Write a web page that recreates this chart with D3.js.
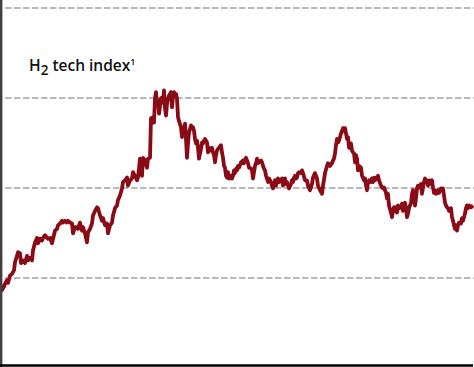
<!DOCTYPE html>
<html>
<head>
<meta charset="utf-8">
<script src="https://cdn.jsdelivr.net/npm/d3@7"></script>
<style>
  html, body { margin: 0; padding: 0; background: #fff; }
  svg { display: block; }
</style>
</head>
<body>
<svg id="chart" width="474" height="367"></svg>
<script>
// ---- data ----
const titleMain = "H";
const titleSub = "2";
const titleRest = " tech index";
const titleSup = "1";
const gridValues = [100, 200, 300, 400];
// observation time (week number) for each index value
const weeks = [
  0, 2, 4, 5, 7, 8, 10, 12, 14, 15, 17, 18, 20, 21, 23, 25, 27, 28, 30, 32,
  33, 35, 37, 38, 40, 42, 43, 45, 47, 48, 50, 52, 53, 55, 57, 58, 60, 62, 63, 65,
  67, 68, 70, 72, 73, 75, 77, 78, 80, 82, 83, 85, 87, 88, 90, 92, 93, 95, 97, 98,
  100, 102, 103, 105, 107, 108, 110, 112, 113, 115, 117, 118, 120, 122, 123, 125, 127, 128, 130, 132,
  133, 135, 137, 138, 140, 142, 143, 145, 147, 148, 150,
  151, 153, 154, 155, 156, 157, 158, 159,
  161, 162, 163, 164, 165, 166, 167, 168, 169, 171, 172, 173, 174, 175, 176, 177, 178, 179,
  181, 182, 183, 184, 185, 186, 187, 188, 189, 191, 192, 193, 194, 195, 196, 197, 198, 199,
  201, 202, 203, 204, 205, 206, 207, 208, 209, 211, 212, 213, 214, 215, 216, 217, 218, 219,
  221, 222, 223, 224, 225, 226, 227, 228, 229, 231, 232, 233, 234, 235, 236, 237, 238, 239,
  241, 242, 243, 244, 245, 246, 247, 248, 249, 251, 252, 253, 254, 255, 256, 257, 258, 259,
  261, 262, 263, 264, 265, 266, 267, 268, 269, 271, 272, 273, 274, 275, 276, 277, 278, 279,
  281, 282, 283, 284, 285, 286, 287, 288, 289, 291, 292, 293, 294, 295, 296, 297, 298, 299,
  301, 302, 303, 305, 307, 308, 310, 312, 313, 315, 317, 318, 320, 322, 323, 325, 327, 328, 330, 332,
  333, 334, 335, 336, 337, 338, 339,
  341, 342, 343, 344, 345, 346, 347, 348, 349, 351, 352, 353, 354, 355, 356, 357, 358, 359,
  361, 362, 363, 364, 365, 366, 367, 368, 369, 371, 372, 373, 374, 375, 376, 377, 378, 379,
  381, 382, 383, 384, 385, 386, 387, 388, 389, 391, 392, 393, 394, 395, 396, 397, 398, 399,
  401, 402, 403, 404, 405, 406, 407, 408, 409, 411, 412, 413, 414, 415, 416, 417, 418, 419,
  421, 422, 423, 424, 425, 426, 427, 428, 429, 431, 432, 433, 434, 435, 436, 437, 438, 439,
  441, 442, 443, 444, 445, 446, 447, 448, 449, 451, 452, 453, 454, 455, 456, 457, 458, 459,
  461, 462, 463, 464, 465, 466, 467, 468, 469, 471, 473
];
const indexValues = [
  93, 86, 90, 93, 97, 94, 102, 104, 108, 117, 124, 128, 127, 116, 119, 116, 124, 119, 122, 119,
  130, 139, 144, 138, 143, 141, 144, 147, 144, 143, 144, 138, 143, 152, 154, 158, 160, 163, 161, 163,
  161, 163, 161, 160, 149, 156, 156, 154, 161, 152, 156, 149, 139, 150, 154, 160, 169, 174, 178, 177,
  169, 163, 166, 158, 160, 149, 158, 161, 169, 177, 180, 186, 191, 199, 206, 208, 211, 202, 208, 210,
  217, 213, 208, 211, 232, 213, 233, 230, 222, 232, 233, 277, 278, 272, 299, 306, 291, 297, 282, 299,
  300, 294, 308, 288, 280, 293, 299, 302, 306, 289, 300, 306, 302, 304, 299, 278, 274, 267, 256, 267,
  261, 271, 254, 233, 249, 261, 269, 266, 267, 263, 254, 249, 252, 244, 232, 243, 250, 249, 252, 254,
  252, 250, 239, 244, 241, 244, 239, 236, 228, 236, 241, 243, 244, 247, 239, 233, 224, 222, 213, 211,
  217, 210, 213, 210, 213, 219, 216, 221, 219, 224, 222, 228, 227, 230, 227, 230, 233, 230, 227, 222,
  221, 219, 210, 217, 224, 227, 232, 227, 228, 230, 228, 224, 221, 219, 213, 210, 206, 210, 206, 202,
  199, 204, 208, 202, 206, 210, 206, 208, 210, 202, 208, 210, 204, 206, 202, 199, 204, 208, 206, 211,
  213, 210, 211, 216, 217, 216, 219, 216, 208, 208, 202, 197, 204, 211, 216, 210, 202, 197, 193, 202,
  216, 224, 227, 224, 227, 230, 232, 238, 247, 254, 250, 252, 260, 263, 266, 263, 266, 260, 254, 256,
  244, 249, 241, 239, 238, 228, 236, 232, 219, 224, 222, 213, 211, 208, 210, 202, 197, 206, 208, 206,
  210, 206, 211, 208, 211, 210, 213, 208, 202, 200, 199, 200, 197, 194, 188, 193, 180, 172, 167, 174,
  178, 174, 178, 172, 180, 177, 178, 182, 174, 180, 183, 177, 167, 171, 177, 183, 193, 197, 189, 180,
  188, 199, 202, 200, 204, 193, 200, 206, 210, 206, 208, 202, 208, 204, 208, 200, 194, 197, 193, 194,
  197, 194, 199, 197, 199, 191, 183, 180, 178, 177, 174, 177, 167, 163, 158, 154, 158, 152, 158, 161,
  160, 166, 163, 167, 171, 177, 180, 177, 180, 178, 180
];
const series = weeks.map((w, i) => ({ week: w, value: indexValues[i] }));

// ---- layout ----
const W = 474, H = 367;
const svg = d3.select("#chart");

const x = d3.scaleLinear().domain([0, 473]).range([0, 473]);
const y = d3.scaleLinear().domain([0, 400]).range([367.5, 7.5]);

// gridlines via axis
const grid = d3.axisLeft(y).tickValues(gridValues).tickSize(-(W - 5)).tickFormat("");
const gg = svg.append("g").attr("transform", "translate(5,0)").call(grid);
gg.select(".domain").remove();
gg.selectAll(".tick line")
  .attr("stroke", "#a3a3a3")
  .attr("stroke-width", 1.6)
  .attr("stroke-dasharray", "6.5,2.5");

// title
const t = svg.append("text")
  .attr("x", 29).attr("y", 71)
  .attr("font-family", "'Open Sans', sans-serif")
  .attr("font-weight", 600)
  .attr("font-size", 15.5)
  .attr("fill", "#111");
t.append("tspan").text(titleMain);
t.append("tspan").attr("font-size", 13.5).attr("dy", 4).text(titleSub);
t.append("tspan").attr("dy", -4).text(titleRest);
t.append("tspan").attr("font-size", 9).attr("dy", -6).text(titleSup);

// line
const line = d3.line()
  .x(d => x(d.week))
  .y(d => y(d.value))
  .curve(d3.curveLinear);

svg.append("path")
  .datum(series)
  .attr("fill", "none")
  .attr("stroke", "#8a0b16")
  .attr("stroke-width", 3.8)
  .attr("stroke-linejoin", "round")
  .attr("d", line);

// axes frame
svg.append("line")
  .attr("x1", 1.2).attr("x2", 1.2).attr("y1", 0).attr("y2", H)
  .attr("stroke", "#404040").attr("stroke-width", 2.4);
svg.append("line")
  .attr("x1", 0).attr("x2", 473).attr("y1", 365.5).attr("y2", 365.5)
  .attr("stroke", "#000").attr("stroke-width", 2.6);
</script>
</body>
</html>
